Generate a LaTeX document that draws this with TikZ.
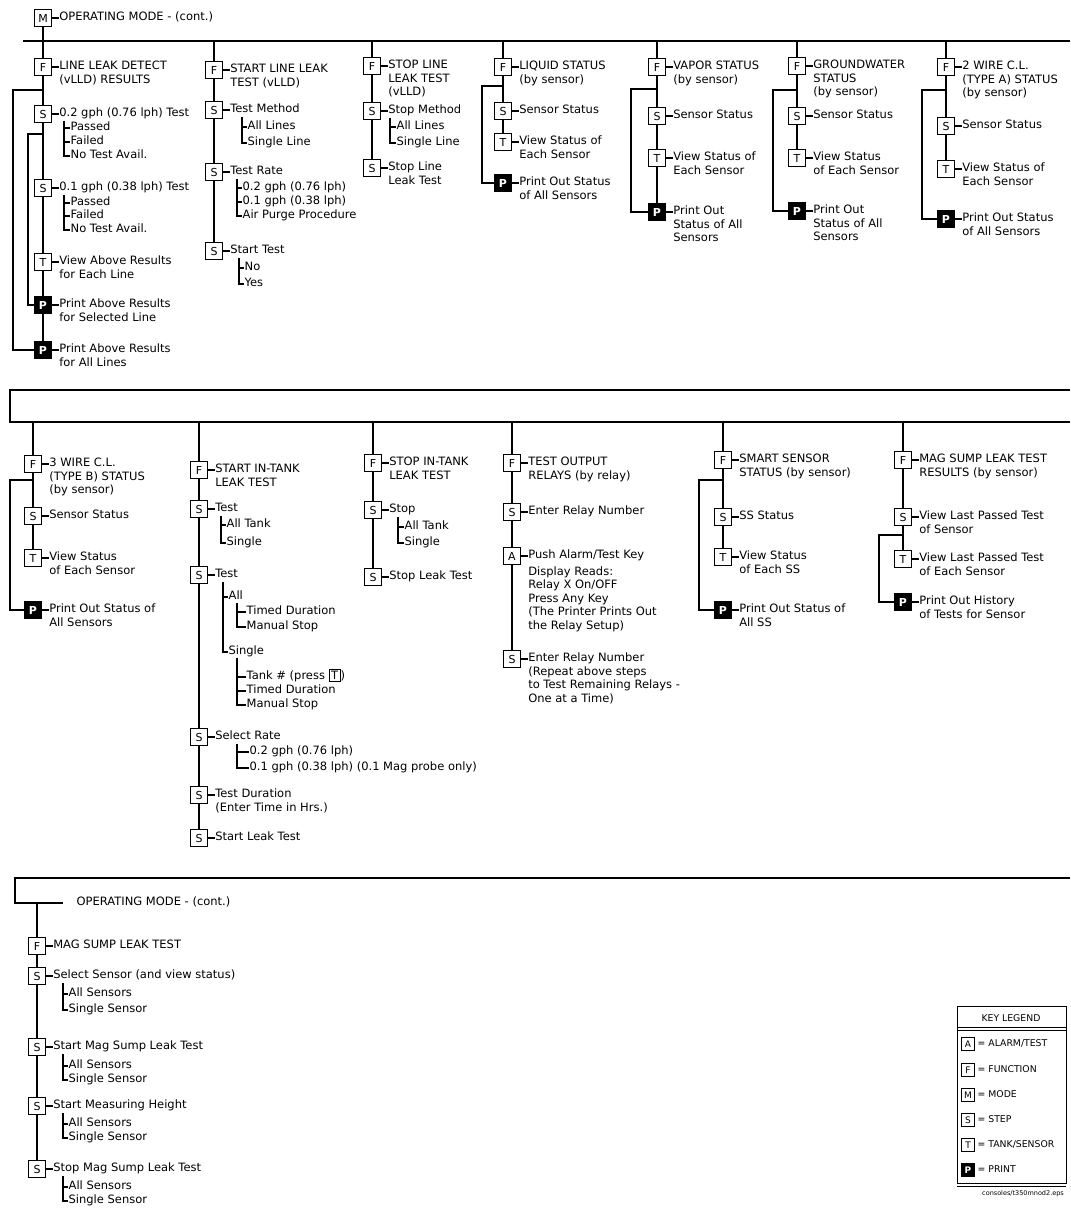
\documentclass[tikz,border=0pt]{standalone}
\usepackage{fontspec}
\setmainfont{DejaVu Sans}
\newcommand\mlt[1]{\begin{tabular}[t]{@{}l@{}}#1\end{tabular}}
\setlength\fboxsep{1.5pt}
\setlength\fboxrule{1pt}
\newcommand\itm[6]{%
  \node[#4] (#1) at (#2,#3) {#5};
  \node[lbl] (#1t) at ([xshift=6.5pt]#1.east) {\mlt{#6}};
  \draw (#1.east) -- (#1t.mid west);}
\newcommand\chb[5]{%
  \node[lbl] (#2) at (#3,#4) {\mlt{#5}};
  \draw (#1) |- (#2.mid west);}
\begin{document}
\begin{tikzpicture}[x=1pt,y=1pt, line width=1.3pt,
  kbox/.style={draw, line width=1.3pt, minimum size=17pt, inner sep=0pt, fill=white, font=\fontsize{11}{12}\selectfont},
  pbox/.style={kbox, fill=black, text=white, font=\fontsize{11}{12}\selectfont\bfseries},
  lbl/.style={anchor=mid west, inner sep=0pt, font=\fontsize{11.5}{13.5}\selectfont},
  lgb/.style={draw, line width=1pt, minimum size=13pt, inner sep=0pt, fill=white, font=\fontsize{9}{9}\selectfont},
  lgp/.style={lgb, fill=black, text=white, font=\fontsize{9}{9}\selectfont\bfseries},
  lgt/.style={anchor=mid west, inner sep=0pt, font=\fontsize{9.3}{10}\selectfont}]
\fill[white] (0,0) rectangle (1070,-1209);
\useasboundingbox (0,0) rectangle (1070,-1209);

% ---------------- top section ----------------
\node[kbox] (m) at (43,-18) {M};
\node[lbl] (mt) at ([xshift=6.5pt]m.east) {OPERATING MODE - (cont.)};
\draw (m.east) -- (mt.mid west);
\coordinate (barL) at (23,-41);
\coordinate (barR) at (1070,-41);
\draw (barL) -- (barR);
\coordinate (t1) at (43,-41);
\coordinate (t2) at (214,-41);
\coordinate (t3) at (372,-41);
\coordinate (t4) at (503,-41);
\coordinate (t5) at (657,-41);
\coordinate (t6) at (797,-41);
\coordinate (t7) at (946,-41);
\draw (m) -- (t1);

% column 1
\itm{c1f}{43}{-67}{kbox}{F}{LINE LEAK DETECT\\(vLLD) RESULTS}
\itm{c1sa}{43}{-114}{kbox}{S}{0.2 gph (0.76 lph) Test}
\coordinate (c1ba) at (64,-121);
\chb{c1ba}{c1sa1}{70}{-128}{Passed}
\chb{c1ba}{c1sa2}{70}{-142}{Failed}
\chb{c1ba}{c1sa3}{70}{-156}{No Test Avail.}
\itm{c1sb}{43}{-188}{kbox}{S}{0.1 gph (0.38 lph) Test}
\coordinate (c1bb) at (64,-195);
\chb{c1bb}{c1sb1}{70}{-203}{Passed}
\chb{c1bb}{c1sb2}{70}{-216}{Failed}
\chb{c1bb}{c1sb3}{70}{-230}{No Test Avail.}
\itm{c1t}{43}{-262}{kbox}{T}{View Above Results\\for Each Line}
\itm{c1p1}{43}{-305}{pbox}{P}{Print Above Results\\for Selected Line}
\itm{c1p2}{43}{-350}{pbox}{P}{Print Above Results\\for All Lines}
\draw (t1) -- (c1f) -- (c1sa) -- (c1sb) -- (c1t) -- (c1p1) -- (c1p2);
\coordinate (c1o) at (43,-90);
\coordinate (c1ox) at (13,-90);
\draw (c1o) -- (c1ox) |- (c1p2.west);
\coordinate (c1i) at (43,-134);
\coordinate (c1ix) at (28,-134);
\draw (c1i) -- (c1ix) |- (c1p1.west);

% column 2
\itm{c2f}{214}{-70}{kbox}{F}{START LINE LEAK\\TEST (vLLD)}
\itm{c2sa}{214}{-110}{kbox}{S}{Test Method}
\coordinate (c2ba) at (242,-117);
\chb{c2ba}{c2sa1}{247}{-127}{All Lines}
\chb{c2ba}{c2sa2}{247}{-143}{Single Line}
\itm{c2sb}{214}{-172}{kbox}{S}{Test Rate}
\coordinate (c2bb) at (237,-179);
\chb{c2bb}{c2sb1}{242}{-188}{0.2 gph (0.76 lph)}
\chb{c2bb}{c2sb2}{242}{-202}{0.1 gph (0.38 lph)}
\chb{c2bb}{c2sb3}{242}{-216}{Air Purge Procedure}
\itm{c2sc}{214}{-251}{kbox}{S}{Start Test}
\coordinate (c2bc) at (239,-258);
\chb{c2bc}{c2sc1}{244}{-268}{No}
\chb{c2bc}{c2sc2}{244}{-284}{Yes}
\draw (t2) -- (c2f) -- (c2sa) -- (c2sb) -- (c2sc);

% column 3
\itm{c3f}{372}{-66}{kbox}{F}{STOP LINE\\LEAK TEST\\(vLLD)}
\itm{c3sa}{372}{-111}{kbox}{S}{Stop Method}
\coordinate (c3ba) at (390,-118);
\chb{c3ba}{c3sa1}{396}{-127}{All Lines}
\chb{c3ba}{c3sa2}{396}{-143}{Single Line}
\itm{c3sb}{372}{-168}{kbox}{S}{Stop Line\\Leak Test}
\draw (t3) -- (c3f) -- (c3sa) -- (c3sb);

% column 4
\itm{c4f}{503}{-67}{kbox}{F}{LIQUID STATUS\\(by sensor)}
\itm{c4s}{503}{-111}{kbox}{S}{Sensor Status}
\itm{c4t}{503}{-142}{kbox}{T}{View Status of\\Each Sensor}
\itm{c4p}{503}{-183}{pbox}{P}{Print Out Status\\of All Sensors}
\draw (t4) -- (c4f) -- (c4s) -- (c4t);
\coordinate (c4o) at (503,-86);
\coordinate (c4ox) at (482,-86);
\draw (c4o) -- (c4ox) |- (c4p.west);

% column 5
\itm{c5f}{657}{-67}{kbox}{F}{VAPOR STATUS\\(by sensor)}
\itm{c5s}{657}{-116}{kbox}{S}{Sensor Status}
\itm{c5t}{657}{-158}{kbox}{T}{View Status of\\Each Sensor}
\itm{c5p}{657}{-212}{pbox}{P}{Print Out\\Status of All\\Sensors}
\draw (t5) -- (c5f) -- (c5s) -- (c5t) -- (c5p);
\coordinate (c5o) at (657,-89);
\coordinate (c5ox) at (631,-89);
\draw (c5o) -- (c5ox) |- (c5p.west);

% column 6
\itm{c6f}{797}{-66}{kbox}{F}{GROUNDWATER\\STATUS\\(by sensor)}
\itm{c6s}{797}{-116}{kbox}{S}{Sensor Status}
\itm{c6t}{797}{-158}{kbox}{T}{View Status\\of Each Sensor}
\itm{c6p}{797}{-211}{pbox}{P}{Print Out\\Status of All\\Sensors}
\draw (t6) -- (c6f) -- (c6s) -- (c6t);
\coordinate (c6o) at (797,-90);
\coordinate (c6ox) at (773,-90);
\draw (c6o) -- (c6ox) |- (c6p.west);

% column 7
\itm{c7f}{946}{-67}{kbox}{F}{2 WIRE C.L.\\(TYPE A) STATUS\\(by sensor)}
\itm{c7s}{946}{-126}{kbox}{S}{Sensor Status}
\itm{c7t}{946}{-169}{kbox}{T}{View Status of\\Each Sensor}
\itm{c7p}{946}{-219}{pbox}{P}{Print Out Status\\of All Sensors}
\draw (t7) -- (c7f) -- (c7s) -- (c7t);
\coordinate (c7o) at (946,-90);
\coordinate (c7ox) at (922,-90);
\draw (c7o) -- (c7ox) |- (c7p.west);

% ---------------- middle section ----------------
\coordinate (mbTL) at (10,-390);
\coordinate (mbTR) at (1070,-390);
\coordinate (mbBL) at (10,-422);
\coordinate (mbBR) at (1070,-422);
\draw (mbTR) -- (mbTL) -- (mbBL) -- (mbBR);
\coordinate (uA) at (33,-422);
\coordinate (uB) at (199,-422);
\coordinate (uC) at (373,-422);
\coordinate (uD) at (512,-422);
\coordinate (uE) at (723,-422);
\coordinate (uF) at (903,-422);

% column A
\itm{dAf}{33}{-464}{kbox}{F}{3 WIRE C.L.\\(TYPE B) STATUS\\(by sensor)}
\itm{dAs}{33}{-516}{kbox}{S}{Sensor Status}
\itm{dAt}{33}{-558}{kbox}{T}{View Status\\of Each Sensor}
\itm{dAp}{33}{-610}{pbox}{P}{Print Out Status of\\All Sensors}
\draw (uA) -- (dAf) -- (dAs) -- (dAt);
\coordinate (dAo) at (33,-480);
\coordinate (dAox) at (10,-480);
\draw (dAo) -- (dAox) |- (dAp.west);

% column B
\itm{dBf}{199}{-470}{kbox}{F}{START IN-TANK\\LEAK TEST}
\itm{dBsa}{199}{-509}{kbox}{S}{Test}
\coordinate (dBba) at (221,-516);
\chb{dBba}{dBsa1}{226}{-525}{All Tank}
\chb{dBba}{dBsa2}{226}{-543}{Single}
\itm{dBsb}{199}{-575}{kbox}{S}{Test}
\coordinate (dBbb) at (223,-582);
\chb{dBbb}{dBsb1}{228}{-597}{All}
\chb{dBbb}{dBsb2}{228}{-652}{Single}
\coordinate (dBbc) at (237,-603);
\chb{dBbc}{dBsb11}{246}{-612}{Timed Duration}
\chb{dBbc}{dBsb12}{246}{-627}{Manual Stop}
\coordinate (dBbd) at (237,-658);
\chb{dBbd}{dBsb21}{246}{-677}{Tank \# (press \fbox{T})}
\chb{dBbd}{dBsb22}{246}{-691}{Timed Duration}
\chb{dBbd}{dBsb23}{246}{-705}{Manual Stop}
\itm{dBsc}{199}{-737}{kbox}{S}{Select Rate}
\coordinate (dBbe) at (237,-744);
\chb{dBbe}{dBsc1}{249}{-752}{0.2 gph (0.76 lph)}
\chb{dBbe}{dBsc2}{249}{-768}{0.1 gph (0.38 lph) (0.1 Mag probe only)}
\itm{dBsd}{199}{-795}{kbox}{S}{Test Duration\\(Enter Time in Hrs.)}
\itm{dBse}{199}{-838}{kbox}{S}{Start Leak Test}
\draw (uB) -- (dBf) -- (dBsa) -- (dBsb) -- (dBsc) -- (dBsd) -- (dBse);

% column C
\itm{dCf}{373}{-463}{kbox}{F}{STOP IN-TANK\\LEAK TEST}
\itm{dCsa}{373}{-510}{kbox}{S}{Stop}
\coordinate (dCba) at (398,-517);
\chb{dCba}{dCsa1}{404}{-527}{All Tank}
\chb{dCba}{dCsa2}{404}{-543}{Single}
\itm{dCsb}{373}{-577}{kbox}{S}{Stop Leak Test}
\draw (uC) -- (dCf) -- (dCsa) -- (dCsb);

% column D
\itm{dDf}{512}{-463}{kbox}{F}{TEST OUTPUT\\RELAYS (by relay)}
\itm{dDsa}{512}{-512}{kbox}{S}{Enter Relay Number}
\itm{dDa}{512}{-556}{kbox}{A}{Push Alarm/Test Key\\[3pt]Display Reads:\\Relay X On/OFF\\Press Any Key\\(The Printer Prints Out\\the Relay Setup)}
\itm{dDsb}{512}{-659}{kbox}{S}{Enter Relay Number\\(Repeat above steps\\to Test Remaining Relays -\\One at a Time)}
\draw (uD) -- (dDf) -- (dDsa) -- (dDa) -- (dDsb);

% column E
\itm{dEf}{723}{-460}{kbox}{F}{SMART SENSOR\\STATUS (by sensor)}
\itm{dEs}{723}{-517}{kbox}{S}{SS Status}
\itm{dEt}{723}{-557}{kbox}{T}{View Status\\of Each SS}
\itm{dEp}{723}{-610}{pbox}{P}{Print Out Status of\\All SS}
\draw (uE) -- (dEf) -- (dEs) -- (dEt);
\coordinate (dEo) at (723,-480);
\coordinate (dEox) at (699,-480);
\draw (dEo) -- (dEox) |- (dEp.west);

% column F
\itm{dFf}{903}{-460}{kbox}{F}{MAG SUMP LEAK TEST\\RESULTS (by sensor)}
\itm{dFs}{903}{-517}{kbox}{S}{View Last Passed Test\\of Sensor}
\itm{dFt}{903}{-559}{kbox}{T}{View Last Passed Test\\of Each Sensor}
\itm{dFp}{903}{-602}{pbox}{P}{Print Out History\\of Tests for Sensor}
\draw (uF) -- (dFf) -- (dFs) -- (dFt);
\coordinate (dFo) at (903,-535);
\coordinate (dFox) at (879,-535);
\draw (dFo) -- (dFox) |- (dFp.west);

% ---------------- bottom section ----------------
\coordinate (btR) at (1070,-878);
\coordinate (btL) at (15,-878);
\coordinate (btC) at (15,-903);
\coordinate (btE) at (63,-903);
\draw (btR) -- (btL) -- (btC) -- (btE);
\node[lbl] (bmt) at (76,-903) {OPERATING MODE - (cont.)};
\coordinate (bt) at (37,-903);
\itm{eF}{37}{-946}{kbox}{F}{MAG SUMP LEAK TEST}
\itm{eSa}{37}{-976}{kbox}{S}{Select Sensor (and view status)}
\coordinate (eba) at (63,-983);
\chb{eba}{eSa1}{68}{-994}{All Sensors}
\chb{eba}{eSa2}{68}{-1010}{Single Sensor}
\itm{eSb}{37}{-1047}{kbox}{S}{Start Mag Sump Leak Test}
\coordinate (ebb) at (63,-1054);
\chb{ebb}{eSb1}{68}{-1066}{All Sensors}
\chb{ebb}{eSb2}{68}{-1080}{Single Sensor}
\itm{eSc}{37}{-1106}{kbox}{S}{Start Measuring Height}
\coordinate (ebc) at (63,-1113);
\chb{ebc}{eSc1}{68}{-1124}{All Sensors}
\chb{ebc}{eSc2}{68}{-1138}{Single Sensor}
\itm{eSd}{37}{-1169}{kbox}{S}{Stop Mag Sump Leak Test}
\coordinate (ebd) at (63,-1176);
\chb{ebd}{eSd1}{68}{-1187}{All Sensors}
\chb{ebd}{eSd2}{68}{-1201}{Single Sensor}
\draw (bt) -- (eF) -- (eSa) -- (eSb) -- (eSc) -- (eSd);

% ---------------- legend ----------------
\draw[line width=1pt] (957,-1006) rectangle (1066,-1183);
\draw[line width=1pt] (957,-1186) -- (1066,-1186);
\draw[line width=0.8pt] (957,-1027) -- (1066,-1027);
\draw[line width=0.8pt] (957,-1030) -- (1066,-1030);
\node[lgt, anchor=center] (lgh) at (1011,-1018) {KEY LEGEND};
\node[lgb] (lgA) at (968,-1044) {A};
\node[lgt] (lgAt) at (977,-1044) {= ALARM/TEST};
\node[lgb] (lgF) at (968,-1070) {F};
\node[lgt] (lgFt) at (977,-1070) {= FUNCTION};
\node[lgb] (lgM) at (968,-1095) {M};
\node[lgt] (lgMt) at (977,-1095) {= MODE};
\node[lgb] (lgS) at (968,-1120) {S};
\node[lgt] (lgSt) at (977,-1120) {= STEP};
\node[lgb] (lgT) at (968,-1145) {T};
\node[lgt] (lgTt) at (977,-1145) {= TANK/SENSOR};
\node[lgp] (lgP) at (968,-1170) {P};
\node[lgt] (lgPt) at (977,-1170) {= PRINT};
\node[inner sep=0pt, font=\fontsize{6.5}{7}\selectfont] (lgc) at (1023,-1194) {consoles/t350mnod2.eps};
\end{tikzpicture}
\end{document}
